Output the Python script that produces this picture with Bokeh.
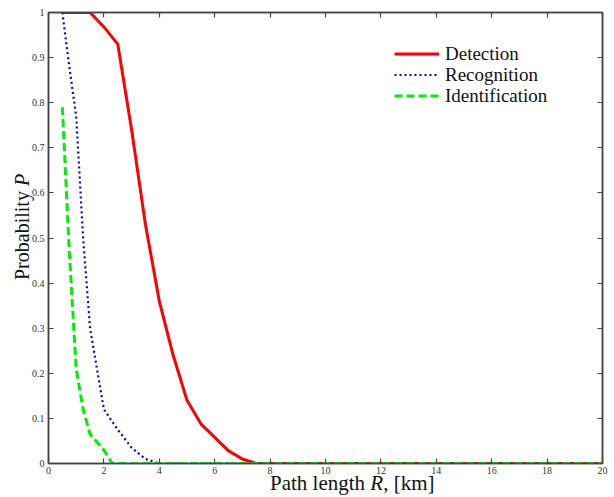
from bokeh.plotting import figure
from bokeh.models import LinearAxis, Legend, LegendItem, Range1d, FixedTicker, Div
from bokeh.layouts import row, column
from bokeh.embed import file_html
from bokeh.resources import INLINE

# ---- data ----
det_x = [0.5, 1.0, 1.5, 2.0, 2.5, 3.0, 3.5, 4.0, 4.5, 5.0, 5.5, 6.0, 6.5, 7.0, 7.5, 8, 10, 12, 14, 16, 18, 20]
det_y = [1.0, 1.0, 1.0, 0.968, 0.93, 0.74, 0.53, 0.36, 0.24, 0.14, 0.088, 0.058, 0.028, 0.01, 0.0, 0, 0, 0, 0, 0, 0, 0]

rec_x = [0.5, 0.75, 1.0, 1.25, 1.5, 2.0, 2.5, 3.0, 3.5, 4.0, 6, 8, 10, 12, 14, 16, 18, 20]
rec_y = [1.0, 0.88, 0.77, 0.50, 0.30, 0.12, 0.075, 0.035, 0.01, 0.0, 0, 0, 0, 0, 0, 0, 0, 0]

ide_x = [0.5, 0.75, 1.0, 1.25, 1.5, 2.0, 2.3, 4, 6, 8, 10, 12, 14, 16, 18, 20]
ide_y = [0.79, 0.47, 0.21, 0.12, 0.065, 0.03, 0.0, 0, 0, 0, 0, 0, 0, 0, 0, 0]

x_ticks = list(range(0, 21, 2))
y_ticks = [i / 10 for i in range(0, 11)]
y_tick_labels = {t: ("0" if t == 0 else ("1" if t == 1 else f"{t:.1f}")) for t in y_ticks}

series_labels = ["Detection", "Recognition", "Identification"]
x_title = "Path length <i>R</i>, [km]"
y_title = "Probability <i>P</i>"

FONT = "Liberation Serif"
AX = "#444444"

YDIV_W = 28
FIG_H = 478

p = figure(width=614 - YDIV_W, height=FIG_H, output_backend="svg", toolbar_location=None,
           x_range=Range1d(0, 20), y_range=Range1d(0, 1),
           x_axis_location=None, y_axis_location=None,
           min_border_left=48 - YDIV_W, min_border_right=12, min_border_top=12, min_border_bottom=15)
p.xgrid.visible = False
p.ygrid.visible = False
p.outline_line_color = AX
p.outline_line_width = 1.5
p.background_fill_color = "white"
p.border_fill_color = None

def make_axis(kind, loc, labels=True):
    ax = LinearAxis()
    ax.ticker = FixedTicker(ticks=x_ticks if kind == "x" else y_ticks)
    ax.axis_line_color = AX
    ax.axis_line_width = 1.5
    ax.major_tick_line_color = AX
    ax.major_tick_line_width = 1.2
    ax.major_tick_in = 5
    ax.major_tick_out = 0
    ax.minor_tick_line_color = None
    ax.major_label_text_font = FONT
    ax.major_label_text_font_size = "10px"
    ax.major_label_text_color = "#333333"
    ax.major_label_standoff = 3 if kind == "x" else 4
    if kind == "y":
        ax.major_label_overrides = y_tick_labels
    if not labels:
        ax.major_label_text_color = None
        ax.major_label_standoff = 0
    p.add_layout(ax, loc)
    return ax

make_axis("x", "below")
make_axis("y", "left")
make_axis("x", "above", labels=False)
make_axis("y", "right", labels=False)

r1 = p.line(det_x, det_y, line_color="#ff0000", line_width=3)
r2 = p.line(rec_x, rec_y, line_color="#0000ff", line_width=2.2, line_dash="2 3")
r3 = p.line(ide_x, ide_y, line_color="#00ee00", line_width=3, line_dash="8 4")

# one single-entry legend per row, to get the tight row spacing of the reference
legend_pos = [(346, 398.5), (346, 377.5), (346, 356.5)]
for lbl, rend, loc in zip(series_labels, [r1, r2, r3], legend_pos):
    lg = Legend(items=[LegendItem(label=lbl, renderers=[rend])], location=loc)
    lg.label_text_font = FONT
    lg.label_text_font_size = "19px"
    lg.label_text_color = "#111111"
    lg.glyph_width = 45
    lg.glyph_height = 19
    lg.label_height = 19
    lg.label_standoff = 6
    lg.padding = 0
    lg.margin = 0
    lg.background_fill_alpha = 0
    lg.border_line_alpha = 0
    p.add_layout(lg)

# axis titles (HTML so the symbols can be italic)
ydiv = Div(
    text=('<div style="transform-origin:0 0; transform:translate(12px,280px) rotate(-90deg);'
          'white-space:nowrap; font-family:\'Liberation Serif\'; font-size:20px; line-height:20px;'
          'color:#111111;">' + y_title + '</div>'),
    width=YDIV_W, height=FIG_H, margin=0, styles={"overflow": "visible"})
xdiv = Div(
    text=('<div style="transform:translate(270px,-5px); white-space:nowrap;'
          'font-family:\'Liberation Serif\'; font-size:21px; line-height:21px; color:#111111;">'
          + x_title + '</div>'),
    width=614, height=497 - FIG_H, margin=0, styles={"overflow": "visible"})

layout = column(row(ydiv, p, spacing=0), xdiv, spacing=0)

open("out.html", "w").write(file_html(layout, INLINE))
